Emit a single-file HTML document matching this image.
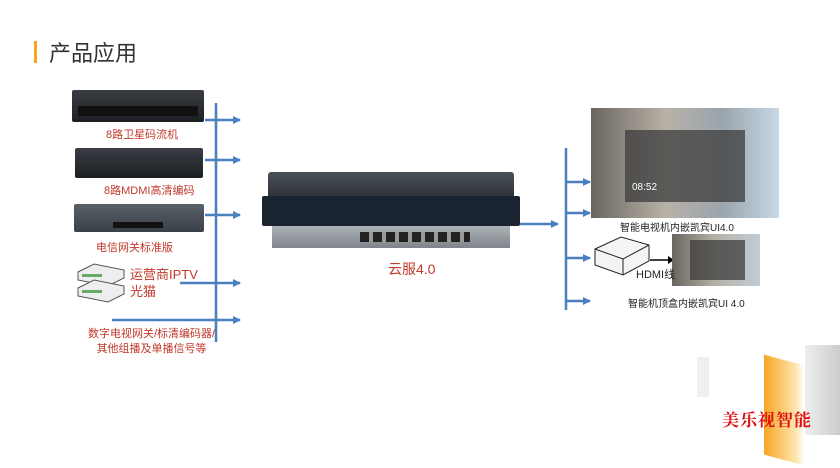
<!DOCTYPE html>
<html><head><meta charset="utf-8"><style>
body{margin:0;width:840px;height:468px;background:#fff;position:relative;overflow:hidden;font-family:"Liberation Sans","Noto Sans CJK SC",sans-serif}
.a{position:absolute}
.red{color:#c0392b;font-size:11px;white-space:nowrap}
.rack{position:absolute;background:linear-gradient(#3a3e44,#1c1f23);border-radius:2px}
</style></head><body>
<div class="a" style="left:34px;top:41px;width:3px;height:22px;background:#f5a623"></div>
<div class="a" style="left:49px;top:36px;font-size:22px;color:#333">产品应用</div>

<!-- left racks -->
<div class="rack" style="left:72px;top:90px;width:132px;height:32px"></div>
<div class="a" style="left:78px;top:106px;width:120px;height:10px;background:#111"></div>
<div class="a red" style="left:106px;top:126px">8路卫星码流机</div>
<div class="rack" style="left:75px;top:148px;width:128px;height:30px"></div>
<div class="a red" style="left:104px;top:182px">8路MDMI高清编码</div>
<div class="rack" style="left:74px;top:204px;width:130px;height:28px;background:linear-gradient(#5a6068,#3a4048)"></div>
<div class="a" style="left:113px;top:222px;width:50px;height:6px;background:#111"></div>
<div class="a red" style="left:96px;top:239px">电信网关标准版</div>
<svg class="a" style="left:74px;top:260px" width="56" height="44"><g fill="#eee" stroke="#555"><path d="M4 12 L20 4 L50 10 L50 18 L34 26 L4 20Z"/><path d="M4 28 L20 20 L50 26 L50 34 L34 42 L4 36Z"/></g><rect x="8" y="14" width="20" height="3" fill="#6a6"/><rect x="8" y="30" width="20" height="3" fill="#6a6"/></svg>
<div class="a" style="left:130px;top:266px;color:#c0392b;font-size:13px;line-height:17px">运营商IPTV<br>光猫</div>
<div class="a red" style="left:88px;top:327px;text-align:center;line-height:15px">数字电视网关/标清编码器/<br>其他组播及单播信号等</div>

<svg class="a" style="left:0;top:0" width="840" height="468">
<defs><marker id="m" markerWidth="8" markerHeight="8" refX="7" refY="4" orient="auto" markerUnits="userSpaceOnUse"><path d="M0 0L8 4L0 8Z" fill="#4a7fc0"/></marker></defs>
<g stroke="#4a7fc0" stroke-width="2.5" fill="none">
<line x1="216" y1="103" x2="216" y2="342"/>
<line x1="205" y1="120" x2="240" y2="120" marker-end="url(#m)"/>
<line x1="205" y1="160" x2="240" y2="160" marker-end="url(#m)"/>
<line x1="205" y1="215" x2="240" y2="215" marker-end="url(#m)"/>
<line x1="180" y1="283" x2="240" y2="283" marker-end="url(#m)"/>
<line x1="112" y1="320" x2="240" y2="320" marker-end="url(#m)"/>
<line x1="520" y1="224" x2="558" y2="224" marker-end="url(#m)"/>
<line x1="566" y1="148" x2="566" y2="310"/>
<line x1="566" y1="182" x2="590" y2="182" marker-end="url(#m)"/>
<line x1="566" y1="213" x2="590" y2="213" marker-end="url(#m)"/>
<line x1="566" y1="258" x2="590" y2="258" marker-end="url(#m)"/>
<line x1="566" y1="301" x2="590" y2="301" marker-end="url(#m)"/>
</g>
<line x1="650" y1="260" x2="670" y2="260" stroke="#000" stroke-width="1.5"/>
<path d="M668 256L674 260L668 264Z"/>
</svg>

<!-- server -->
<div class="a" style="left:268px;top:172px;width:246px;height:40px;background:linear-gradient(#4a5058,#1e2226);border-radius:3px"></div>
<div class="a" style="left:262px;top:196px;width:258px;height:30px;background:#1a2330;border-radius:2px"></div>
<div class="a" style="left:272px;top:226px;width:238px;height:22px;background:linear-gradient(#aeb3b8,#7e848a)"></div>
<div class="a" style="left:360px;top:232px;width:110px;height:10px;background:repeating-linear-gradient(90deg,#222 0 9px,#999 9px 13px)"></div>
<div class="a" style="left:388px;top:259px;color:#c0392b;font-size:14px">云服4.0</div>

<!-- right images -->
<div class="a" style="left:591px;top:108px;width:188px;height:110px;background:linear-gradient(90deg,#6a6560,#b8b2a8 40%,#9aa4ad 70%,#c8d8e4)"></div>
<div class="a" style="left:625px;top:130px;width:120px;height:72px;background:rgba(60,60,60,.75)"></div>
<div class="a" style="left:632px;top:182px;color:#fff;font-size:10px">08:52</div>
<div class="a" style="left:620px;top:219px;font-size:10px;color:#222">智能电视机内嵌凯宾UI4.0</div>
<svg class="a" style="left:593px;top:233px" width="58" height="46"><path d="M2 16L28 4L56 12L56 28L30 42L2 32Z" fill="#f4f4f4" stroke="#222"/><path d="M2 16L30 26L56 12M30 26L30 42" fill="none" stroke="#222"/></svg>
<div class="a" style="left:672px;top:234px;width:88px;height:52px;background:linear-gradient(90deg,#6a6560,#b8b2a8 50%,#c0ccd6)"></div>
<div class="a" style="left:690px;top:240px;width:55px;height:40px;background:rgba(60,60,60,.75)"></div>
<div class="a" style="left:636px;top:266px;font-size:11px;color:#222">HDMI线</div>
<div class="a" style="left:628px;top:295px;font-size:10px;color:#222">智能机顶盒内嵌凯宾UI 4.0</div>

<!-- logo -->
<div class="a" style="left:764px;top:360px;width:40px;height:100px;background:linear-gradient(90deg,#f5a623,#fde6b0 80%,#fff);transform:skewY(15deg)"></div>
<div class="a" style="left:805px;top:345px;width:35px;height:90px;background:linear-gradient(90deg,#eee,#ccc)"></div>
<div class="a" style="left:697px;top:357px;width:12px;height:40px;background:#f0f0f0"></div>
<div class="a" style="left:722px;top:406px;color:#e01010;font-size:17px;font-weight:bold;font-family:'Noto Serif CJK SC',serif;letter-spacing:1px">美乐视智能</div>
</body></html>
